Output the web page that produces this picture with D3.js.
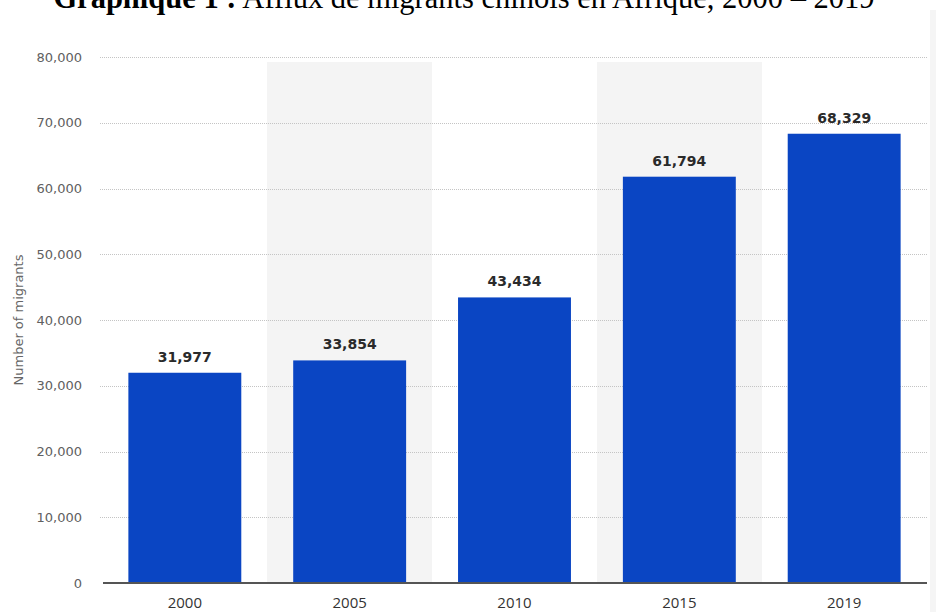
<!DOCTYPE html>
<html>
<head>
<meta charset="utf-8">
<script src="https://cdn.jsdelivr.net/npm/d3@7"></script>
<style>
  html, body { margin: 0; padding: 0; background: #ffffff; }
  svg { display: block; }
</style>
</head>
<body>
<svg id="chart" width="936" height="612"></svg>
<script>
const titleBold = "Graphique 1 :";
const titleRest = " Afflux de migrants chinois en Afrique, 2000 – 2019";
const yAxisTitle = "Number of migrants";
const years = ["2000", "2005", "2010", "2015", "2019"];
const migrants = [31977, 33854, 43434, 61794, 68329];
const yTicks = [0, 10000, 20000, 30000, 40000, 50000, 60000, 70000, 80000];

const svg = d3.select("#chart");
const W = 936, H = 612;
const m = { left: 102, right: 9, top: 57, bottom: 29 };

const x = d3.scaleBand().domain(years).range([m.left, W - m.right]).paddingInner(0.315).paddingOuter(0.16);
const xStep = d3.scaleBand().domain(years).range([m.left, W - m.right]).padding(0);
const y = d3.scaleLinear().domain([0, 80000]).range([H - m.bottom, m.top]);

// alternating shaded bands
svg.append("g").selectAll("rect")
  .data(years.filter((d, i) => i % 2 === 1))
  .join("rect")
  .attr("x", d => xStep(d))
  .attr("width", xStep.bandwidth())
  .attr("y", y(80000) + 5)
  .attr("height", y(0) - y(80000) - 5)
  .attr("fill", "#f4f4f4");

// right page edge shade
svg.append("rect").attr("x", 930).attr("y", 10).attr("width", 6).attr("height", H - 10).attr("fill", "#f5f5f5");

// gridlines
svg.append("g")
  .selectAll("line")
  .data(yTicks.filter(d => d > 0))
  .join("line")
  .attr("x1", m.left - 2).attr("x2", W - m.right + 1)
  .attr("y1", d => Math.round(y(d)) + 0.5).attr("y2", d => Math.round(y(d)) + 0.5)
  .attr("stroke", "#c4c4c4").attr("stroke-width", 1).attr("stroke-dasharray", "1,1");

// y axis labels
const yAxis = d3.axisLeft(y).tickValues(yTicks).tickFormat(d3.format(",")).tickSize(0).tickPadding(0);
const gy = svg.append("g").attr("transform", `translate(82,0)`).call(yAxis);
gy.select(".domain").remove();
gy.selectAll("text").attr("font-family", "DejaVu Sans, sans-serif").attr("font-size", 13).attr("fill", "#606060");

// bars
svg.append("g").selectAll("rect")
  .data(years)
  .join("rect")
  .attr("x", d => x(d))
  .attr("width", x.bandwidth())
  .attr("y", (d, i) => y(migrants[i]))
  .attr("height", (d, i) => y(0) - y(migrants[i]))
  .attr("fill", "#0a45c3");

// value labels
svg.append("g").selectAll("text")
  .data(years)
  .join("text")
  .attr("x", d => x(d) + x.bandwidth() / 2)
  .attr("y", (d, i) => y(migrants[i]) - 11)
  .attr("text-anchor", "middle")
  .attr("font-family", "DejaVu Sans, sans-serif")
  .attr("font-weight", "bold")
  .attr("font-size", 14)
  .attr("fill", "#2a2a2a")
  .text((d, i) => d3.format(",")(migrants[i]));

// x axis
const xAxis = d3.axisBottom(x).tickSize(0).tickPadding(14);
const gx = svg.append("g").attr("transform", `translate(0,${y(0)})`).call(xAxis);
gx.select(".domain").attr("stroke", "#555").attr("stroke-width", 2).attr("d", `M${m.left + 1},0H${W - m.right}`);
gx.selectAll("text").attr("font-family", "Open Sans, sans-serif").attr("font-size", 15).attr("fill", "#333");

// y axis title
svg.append("text")
  .attr("transform", `translate(23,320) rotate(-90)`)
  .attr("text-anchor", "middle")
  .attr("font-family", "DejaVu Sans, sans-serif")
  .attr("font-size", 13)
  .attr("fill", "#666")
  .text(yAxisTitle);

// title (cut off at top, as in the reference)
const t = svg.append("text")
  .attr("x", 464).attr("y", 8)
  .attr("text-anchor", "middle")
  .attr("font-family", "Liberation Serif, Times New Roman, serif")
  .attr("font-size", 30.5)
  .attr("fill", "#000");
t.append("tspan").attr("font-weight", "bold").text(titleBold);
t.append("tspan").text(titleRest);
</script>
</body>
</html>
